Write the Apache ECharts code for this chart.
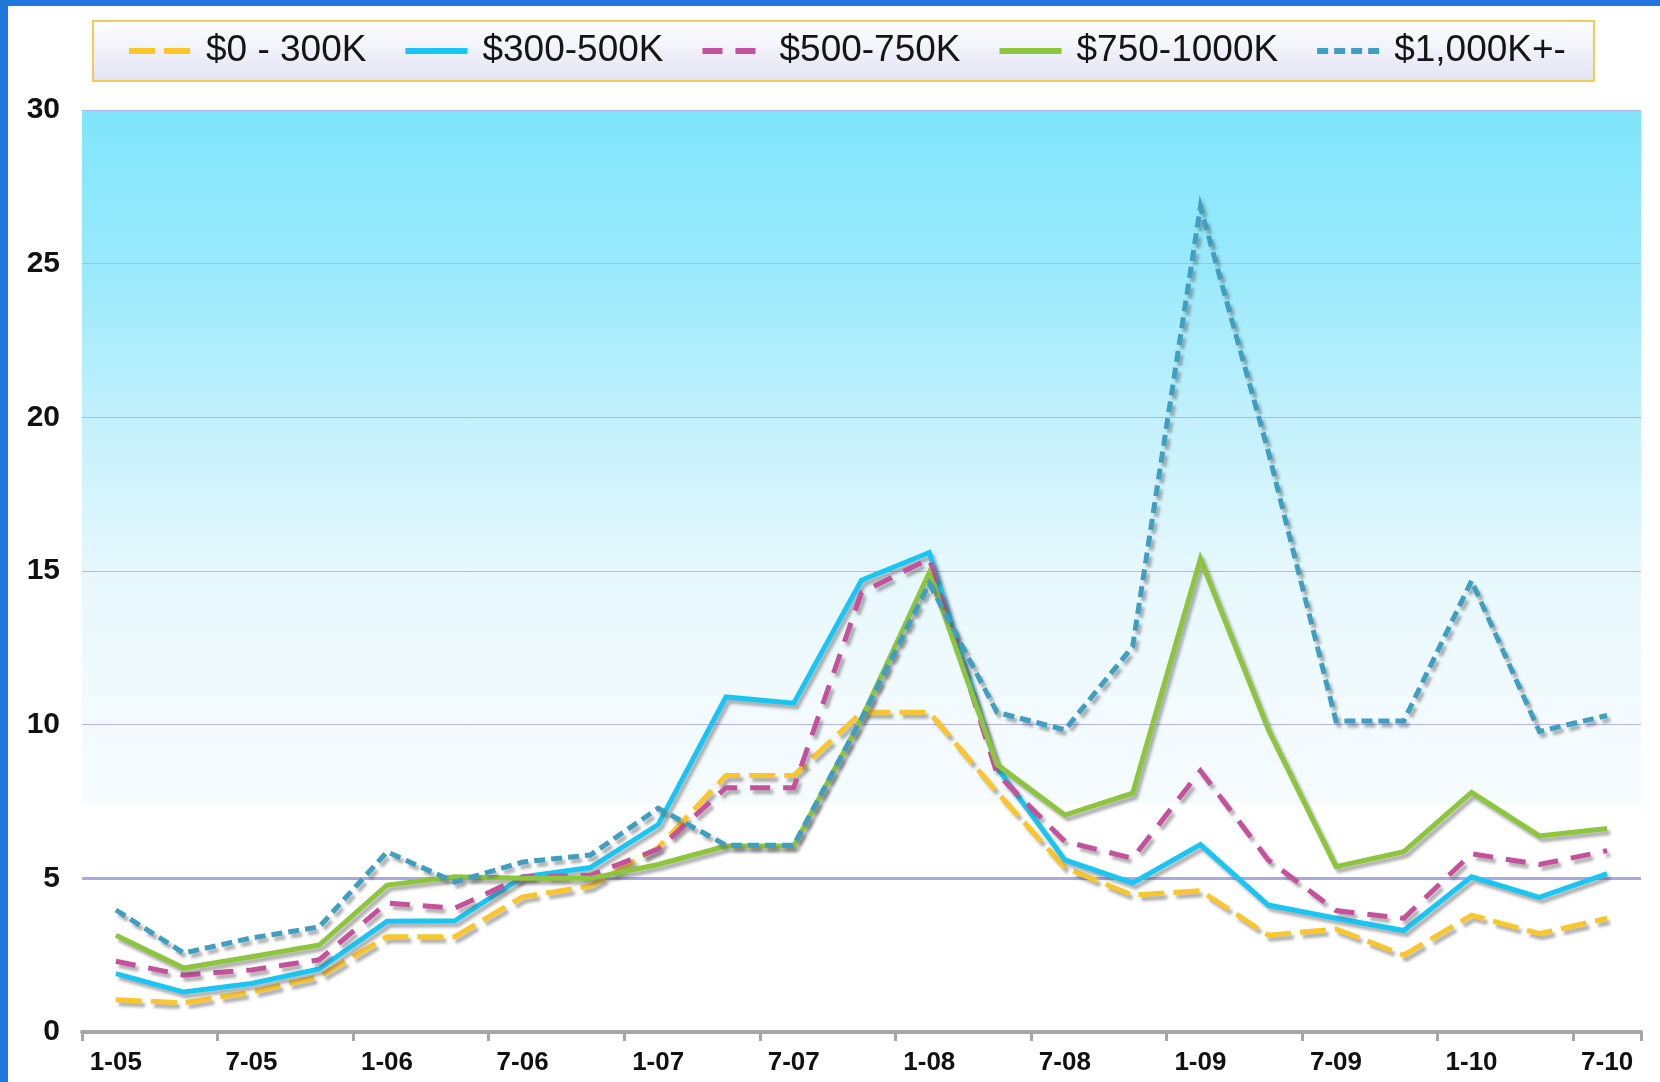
<!DOCTYPE html>
<html>
<head>
<meta charset="utf-8">
<script src="https://cdn.jsdelivr.net/npm/echarts@6/dist/echarts.min.js"></script>
<style>
  html, body { margin: 0; padding: 0; background: #ffffff; }
  #chart { width: 1660px; height: 1082px; }
</style>
</head>
<body>
<div id="chart"></div>
<script>
// Quarterly periods, Jan 2005 through Jul 2010
const periods = ['1-05','4-05','7-05','10-05','1-06','4-06','7-06','10-06',
                 '1-07','4-07','7-07','10-07','1-08','4-08','7-08','10-08',
                 '1-09','4-09','7-09','10-09','1-10','4-10','7-10'];

const seriesNames = ['$0 - 300K', '$300-500K', '$500-750K', '$750-1000K', '$1,000K+-'];

const tier0to300 = [1.05, 0.95, 1.3, 1.8, 3.1, 3.1, 4.4, 4.75, 6.0, 8.35, 8.35, 10.4,
                    10.4, 7.8, 5.35, 4.45, 4.6, 3.15, 3.35, 2.5, 3.8, 3.2, 3.7];
const tier300to500 = [1.9, 1.3, 1.58, 2.05, 3.6, 3.62, 5.05, 5.35, 6.75, 10.9, 10.7, 14.7,
                      15.6, 8.6, 5.6, 4.85, 6.1, 4.13, 3.7, 3.3, 5.05, 4.38, 5.15];
const tier500to750 = [2.3, 1.85, 2.02, 2.35, 4.2, 4.03, 5.05, 5.1, 5.95, 7.95, 7.95, 14.3,
                      15.4, 8.4, 6.2, 5.65, 8.5, 5.6, 3.95, 3.7, 5.8, 5.45, 5.9];
const tier750to1000 = [3.15, 2.08, 2.45, 2.83, 4.78, 5.05, 5.0, 5.0, 5.45, 6.05, 6.05, 10.2,
                       14.95, 8.7, 7.06, 7.77, 15.4, 9.85, 5.38, 5.87, 7.8, 6.38, 6.62];
const tier1000plus = [3.97, 2.57, 3.06, 3.42, 5.86, 4.88, 5.53, 5.76, 7.28, 6.08, 6.08, 10.2,
                      14.6, 10.4, 9.83, 12.54, 26.85, 18.9, 10.12, 10.12, 14.68, 9.78, 10.3];

const yTicks = { min: 0, max: 30, step: 5 };

const colors = ['#fcc62a', '#17c6f4', '#c5509b', '#8dc63c', '#3e9fc0'];
const dashes = [[26, 9], 'solid', [20, 13], 'solid', [11, 6]];
const values = [tier0to300, tier300to500, tier500to750, tier750to1000, tier1000plus];

const chart = echarts.init(document.getElementById('chart'), null, { renderer: 'canvas' });

const lineSeries = values.map((data, i) => ({
  name: seriesNames[i],
  type: 'line',
  data: data,
  symbol: 'none',
  z: 3 + i,
  lineStyle: {
    color: colors[i],
    width: 5,
    type: dashes[i],
    cap: 'butt',
    join: 'miter',
    shadowColor: 'rgba(80,80,80,0.45)',
    shadowBlur: 3,
    shadowOffsetX: 3,
    shadowOffsetY: 4
  },
  itemStyle: { color: colors[i] }
}));

// emphasised reference line at 5
lineSeries[0].markLine = {
  silent: true,
  symbol: 'none',
  label: { show: false },
  lineStyle: { color: '#a9a7e8', width: 3, type: 'solid' },
  data: [{ yAxis: 5 }],
  z: 2
};

chart.setOption({
  animation: false,
  backgroundColor: '#ffffff',
  color: colors,
  graphic: [
    { type: 'rect', left: 0, top: 0, shape: { width: 1660, height: 6 }, style: { fill: '#1f76dc' }, z: 100 },
    { type: 'rect', left: 0, top: 0, shape: { width: 8, height: 1082 }, style: { fill: '#1f76dc' }, z: 100 }
  ],
  legend: {
    left: 93,
    top: 21,
    padding: [10, 28, 10, 33],
    itemGap: 36,
    itemWidth: 62,
    itemHeight: 20,
    itemStyle: { opacity: 0 },
    lineStyle: { width: 6 },
    backgroundColor: {
      type: 'linear', x: 0, y: 0, x2: 0, y2: 1,
      colorStops: [{ offset: 0, color: '#ffffff' }, { offset: 1, color: '#e2e2f4' }]
    },
    borderColor: '#f3cb55',
    borderWidth: 2,
    borderRadius: 0,
    textStyle: {
      fontFamily: "'Liberation Sans', Arial, sans-serif",
      fontSize: 37,
      color: '#151515',
      lineHeight: 40,
      padding: [0, 0, 0, 10]
    },
    data: seriesNames
  },
  grid: {
    left: 82,
    right: 19,
    top: 110,
    bottom: 50,
    show: true,
    borderWidth: 0,
    backgroundColor: {
      type: 'linear', x: 0, y: 0, x2: 0, y2: 1,
      colorStops: [
        { offset: 0, color: '#7fe5fb' },
        { offset: 0.18, color: '#9beafc' },
        { offset: 0.34, color: '#c3f1fc' },
        { offset: 0.5, color: '#e6f8fd' },
        { offset: 0.66, color: '#f3fbfe' },
        { offset: 0.752, color: '#f6fcfe' },
        { offset: 0.753, color: '#ffffff' },
        { offset: 1, color: '#ffffff' }
      ]
    }
  },
  xAxis: {
    type: 'category',
    data: periods,
    boundaryGap: true,
    axisLine: { show: true, lineStyle: { color: '#a6a6a6', width: 4 } },
    axisTick: { show: true, interval: 1, length: 9, lineStyle: { color: '#a6a6a6', width: 3 } },
    axisLabel: {
      interval: 1,
      margin: 18,
      fontFamily: "'Liberation Sans', Arial, sans-serif",
      fontWeight: 'bold',
      fontSize: 26,
      color: '#111111'
    },
    splitLine: { show: false }
  },
  yAxis: {
    type: 'value',
    min: yTicks.min,
    max: yTicks.max,
    interval: yTicks.step,
    axisLine: { show: false },
    axisTick: { show: false },
    axisLabel: {
      margin: 22,
      fontFamily: "'Liberation Sans', Arial, sans-serif",
      fontWeight: 'bold',
      fontSize: 30,
      color: '#111111'
    },
    splitLine: { show: true, lineStyle: { color: '#b5b4ec', width: 1 } }
  },
  series: lineSeries
});
</script>
</body>
</html>
